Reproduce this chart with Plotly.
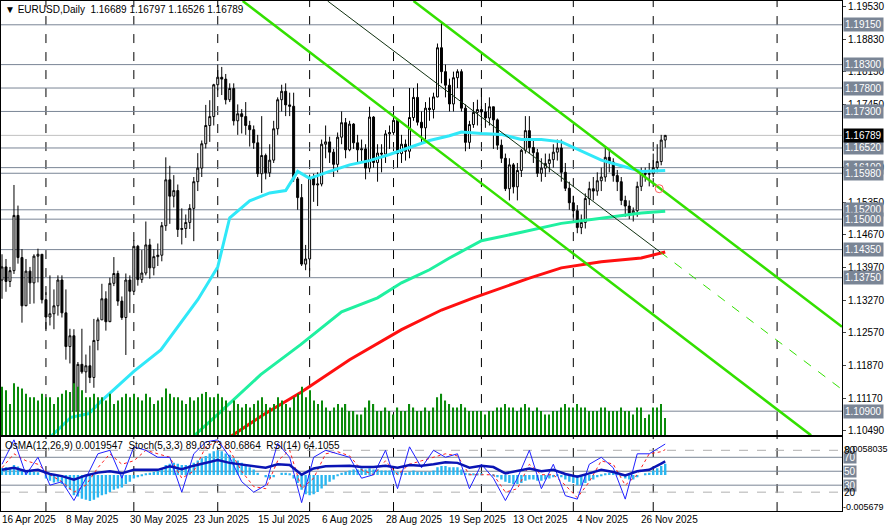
import pandas as pd
import plotly.graph_objects as go

# ---- data (EURUSD daily, bar index 0 = 16 Apr 2025) ----
closes = [
    1.1398, 1.1367, 1.1390, 1.1508, 1.1418, 1.1315, 1.1389, 1.1364, 1.1421, 1.1425, 1.1328,
    1.1291, 1.1298, 1.1315, 1.1370, 1.1300, 1.1228, 1.1251, 1.1089, 1.1190, 1.1174, 1.1187,
    1.1162, 1.1241, 1.1285, 1.1330, 1.1281, 1.1363, 1.1384, 1.1325, 1.1290, 1.1370, 1.1346,
    1.1442, 1.1371, 1.1385, 1.1445, 1.1396, 1.1420, 1.1423, 1.1486, 1.1584, 1.1549, 1.1561,
    1.1478, 1.1480, 1.1493, 1.1523, 1.1580, 1.1609, 1.1661, 1.1700, 1.1719, 1.1787,
    1.1803, 1.1799, 1.1755, 1.1779, 1.1710, 1.1725, 1.1719, 1.1700, 1.1691, 1.1663, 1.1597,
    1.1636, 1.1599, 1.1626, 1.1693, 1.1755, 1.1773, 1.1744, 1.1741, 1.1586, 1.1546, 1.1404, 1.1415,
    1.1587, 1.1573, 1.1575, 1.1660, 1.1665, 1.1643, 1.1617, 1.1675, 1.1706, 1.1648, 1.1703,
    1.1663, 1.1648, 1.1650, 1.1609, 1.1718, 1.1621, 1.1641, 1.1639, 1.1682, 1.1685,
    1.1711, 1.1640, 1.1660, 1.1645, 1.1717, 1.1760, 1.1707, 1.1695, 1.1737, 1.1734, 1.1761,
    1.1866, 1.1815, 1.1786, 1.1746, 1.1802, 1.1815, 1.1737, 1.1664, 1.1702, 1.1728, 1.1734,
    1.1729, 1.1716, 1.1740, 1.1712, 1.1658, 1.1630, 1.1565, 1.1616, 1.1569, 1.1604, 1.1647,
    1.1689, 1.1653, 1.1642, 1.1598, 1.1609, 1.1619, 1.1627, 1.1643, 1.1652, 1.1600, 1.1566, 1.1535,
    1.1518, 1.1482, 1.1493, 1.1544, 1.1565, 1.1560, 1.1582, 1.1590, 1.1632, 1.1622,
    1.1593, 1.1580, 1.1540, 1.1528, 1.1513, 1.1518, 1.1570, 1.1598, 1.1596, 1.1597,
    1.1610, 1.1623, 1.16689, 1.16789,
]
highs = [
    1.1425, 1.1415, 1.1398, 1.1573, 1.1529, 1.1436, 1.1415, 1.1398, 1.1425, 1.1437, 1.1425,
    1.1344, 1.1380, 1.1350, 1.1380, 1.1380, 1.1350, 1.1266, 1.1265, 1.1195, 1.1266, 1.1211,
    1.1230, 1.1287, 1.1290, 1.1362, 1.1346, 1.1375, 1.1419, 1.1390, 1.1335, 1.1384, 1.1380,
    1.1455, 1.1445, 1.1434, 1.1495, 1.1458, 1.1436, 1.1448, 1.1494, 1.1632, 1.1614, 1.1594,
    1.1574, 1.1523, 1.1510, 1.1532, 1.1590, 1.1641, 1.1668, 1.1744, 1.1754, 1.1789,
    1.1830, 1.1825, 1.1810, 1.1790, 1.1790, 1.1745, 1.1735, 1.1750, 1.1710, 1.1700, 1.1680,
    1.1720, 1.1640, 1.1660, 1.1710, 1.1760, 1.1787, 1.1790, 1.1770, 1.1770, 1.1590, 1.1575, 1.1445,
    1.1595, 1.1597, 1.1600, 1.1670, 1.1700, 1.1676, 1.1650, 1.1685, 1.1730, 1.1716, 1.1710,
    1.1705, 1.1680, 1.1670, 1.1660, 1.1740, 1.1720, 1.1660, 1.1660, 1.1690, 1.1700,
    1.1720, 1.1715, 1.1680, 1.1670, 1.1780, 1.1780, 1.1790, 1.1730, 1.1750, 1.1760, 1.1770,
    1.1875, 1.1918, 1.1830, 1.1800, 1.1815, 1.1820, 1.1820, 1.1745, 1.1710, 1.1750, 1.1755,
    1.1780, 1.1748, 1.1760, 1.1740, 1.1715, 1.1670, 1.1640, 1.1630, 1.1620, 1.1620, 1.1650,
    1.1720, 1.1720, 1.1670, 1.1650, 1.1630, 1.1640, 1.1640, 1.1660, 1.1670, 1.1670, 1.1620, 1.1580,
    1.1550, 1.1530, 1.1510, 1.1555, 1.1580, 1.1590, 1.1600, 1.1610, 1.1655, 1.1650,
    1.1630, 1.1605, 1.1590, 1.1550, 1.1540, 1.1525, 1.1580, 1.1610, 1.1610, 1.1620,
    1.1640, 1.1660, 1.1680, 1.16797,
]
lows = [
    1.1330, 1.1345, 1.1355, 1.1383, 1.1405, 1.1279, 1.1317, 1.1319, 1.1320, 1.1365, 1.1320,
    1.1265, 1.1273, 1.1265, 1.1294, 1.1290, 1.1200, 1.1192, 1.1065, 1.1080, 1.1170, 1.1129,
    1.1150, 1.1140, 1.1220, 1.1285, 1.1262, 1.1283, 1.1357, 1.1315, 1.1285, 1.1210, 1.1300,
    1.1345, 1.1358, 1.1364, 1.1380, 1.1373, 1.1380, 1.1400, 1.1410, 1.1475, 1.1490, 1.1525,
    1.1462, 1.1446, 1.1460, 1.1479, 1.1453, 1.1560, 1.1590, 1.1651, 1.1665, 1.1700,
    1.1775, 1.1765, 1.1745, 1.1750, 1.1700, 1.1680, 1.1683, 1.1680, 1.1655, 1.1650, 1.1590,
    1.1556, 1.1585, 1.1590, 1.1620, 1.1680, 1.1730, 1.1720, 1.1720, 1.1580, 1.1520, 1.1400, 1.1391,
    1.1390, 1.1537, 1.1528, 1.1570, 1.1630, 1.1620, 1.1590, 1.1600, 1.1660, 1.1630, 1.1645,
    1.1650, 1.1620, 1.1620, 1.1585, 1.1600, 1.1610, 1.1580, 1.1600, 1.1620, 1.1650,
    1.1680, 1.1610, 1.1620, 1.1625, 1.1630, 1.1710, 1.1700, 1.1660, 1.1670, 1.1710, 1.1715,
    1.1760, 1.1790, 1.1760, 1.1730, 1.1730, 1.1780, 1.1730, 1.1645, 1.1650, 1.1695, 1.1700,
    1.1700, 1.1695, 1.1700, 1.1650, 1.1648, 1.1620, 1.1560, 1.1540, 1.1555, 1.1540, 1.1590,
    1.1640, 1.1640, 1.1620, 1.1590, 1.1580, 1.1590, 1.1600, 1.1610, 1.1625, 1.1580, 1.1560, 1.1520,
    1.1505, 1.1470, 1.1468, 1.1480, 1.1530, 1.1540, 1.1550, 1.1560, 1.1580, 1.1600,
    1.1580, 1.1560, 1.1530, 1.1505, 1.1500, 1.1495, 1.1505, 1.1560, 1.1580, 1.1570,
    1.1590, 1.1600, 1.1615, 1.16526,
]
first_open = 1.1370

volumes = [
    28, 26, 18, 30, 28, 27, 24, 22, 22, 20, 24,
    22, 22, 18, 22, 24, 26, 25, 30, 28, 26, 22, 22, 24, 22, 22, 20, 24, 18, 20, 22, 24, 22,
    24, 22, 20, 24, 22, 18, 20, 22, 27, 24, 22, 22, 20, 18, 22, 20, 22, 24, 25, 22, 22,
    24, 22, 20, 14, 20, 18, 16, 18, 16, 18, 20, 22, 18, 16, 18, 22, 20, 18, 16, 22, 24, 28, 22,
    26, 20, 18, 20, 16, 14, 16, 18, 16, 18, 14, 14, 12, 12, 16, 20, 18, 14, 14, 16, 14,
    12, 16, 14, 14, 18, 16, 14, 14, 16, 14, 16, 22, 24, 20, 18, 16, 16, 18, 16, 14, 14, 14,
    14, 12, 14, 14, 16, 16, 18, 16, 16, 14, 16, 18, 16, 14, 16, 14, 12, 12, 14, 14, 16, 18, 16,
    16, 18, 16, 16, 14, 14, 14, 16, 16, 14, 14, 14, 16, 14, 14, 12, 16, 16, 10, 12,
    16, 16, 18, 10,
]

# OsMA histogram, in units of 0.0001
osma_e4 = [
    12, 14, 13, 18, 15, 8, 8, 6, 6, 5, 0,
    -6, -10, -13, -12, -16, -22, -26, -36, -38, -42, -44, -46, -44, -40, -36, -34, -30, -26, -24, -22, -16, -12,
    -6, -4, -2, 2, 4, 6, 8, 12, 18, 20, 22, 20, 18, 18, 18, 22, 26, 30, 34, 38, 42,
    44, 42, 38, 36, 30, 26, 22, 18, 14, 10, 4, 0, -4, -6, -4, 0, 4, 4, 2, -6, -14, -26, -34,
    -36, -34, -30, -24, -18, -12, -8, -2, 4, 6, 8, 10, 10, 12, 10, 12, 10, 10, 8, 8, 8,
    8, 6, 6, 4, 6, 8, 6, 6, 6, 6, 8, 14, 16, 16, 14, 14, 14, 10, 4, 2, 2, 2,
    2, 0, 0, -2, -4, -8, -12, -14, -16, -16, -14, -10, -8, -8, -10, -10, -8, -6, -4, -2, -4, -8, -12,
    -14, -18, -18, -14, -10, -8, -4, -2, 2, 4, 4, 2, -2, -6, -8, -8, -4, 0, 2, 4,
    8, 12, 16, 20,
]

# oscillators sampled every 3 bars
osc_idx = list(range(0, 166, 3)) + [166]
stoch_main = [60, 95, 45, 70, 30, 35, 8, 40, 75, 80, 40, 85, 80, 70, 70, 20, 75, 92, 95, 70,
              35, 20, 30, 90, 70, 5, 70, 80, 75, 70, 40, 45, 80, 25, 85, 55, 80, 70, 75, 25,
              60, 40, 8, 40, 80, 25, 60, 15, 10, 60, 70, 55, 10, 75, 75, 85, 89]
stoch_signal = [55, 75, 65, 60, 45, 35, 20, 30, 55, 75, 60, 65, 80, 75, 70, 40, 50, 85, 93, 80,
                50, 28, 25, 65, 80, 25, 40, 75, 78, 72, 52, 45, 65, 45, 60, 65, 70, 75, 72, 45,
                45, 45, 20, 25, 60, 45, 45, 30, 12, 35, 65, 60, 30, 45, 75, 78, 81]
rsi = [52, 55, 50, 52, 46, 43, 38, 44, 48, 50, 47, 52, 52, 52, 57, 53, 58, 62, 66, 62,
       60, 57, 55, 60, 59, 45, 54, 57, 58, 58, 56, 56, 58, 55, 59, 58, 60, 63, 62, 55,
       58, 56, 47, 50, 54, 50, 52, 46, 42, 47, 52, 49, 44, 50, 52, 61, 64]

# moving averages (bar index, price)
ma50_idx = [12.25, 17.25, 21.75, 24.75, 33, 39.75, 49, 54, 57, 62, 67, 71, 74, 76, 77, 82, 87, 92, 97, 102,
            107, 112, 115, 120, 125, 130, 135, 140, 145, 150, 155, 160, 166]
ma50 = [1.1036, 1.1077, 1.1085, 1.1111, 1.1175, 1.1221, 1.1328, 1.1398, 1.1503, 1.1539, 1.1556, 1.1561,
        1.1602, 1.1593, 1.1587, 1.1602, 1.1616, 1.1625, 1.1638, 1.1653, 1.1668, 1.1678, 1.1686, 1.1683,
        1.1681, 1.1670, 1.1670, 1.1665, 1.1645, 1.1626, 1.1614, 1.1602, 1.1604]
ma100_idx = [48, 54, 64.75, 74.75, 85, 94, 100, 107, 112, 120, 130, 140, 150, 160, 166]
ma100 = [1.1037, 1.1083, 1.1168, 1.1232, 1.1302, 1.1332, 1.1364, 1.1392, 1.1417, 1.1454, 1.1472, 1.1491,
         1.1502, 1.1513, 1.1517]
ma200_idx = [57.25, 65.5, 74.75, 87, 100, 110, 118, 125, 132, 140, 150, 160, 166]
ma200 = [1.1036, 1.1083, 1.1130, 1.1200, 1.1264, 1.1306, 1.1332, 1.1353, 1.1374, 1.1396, 1.1409, 1.1417, 1.1430]

# drawn trend channel (start/end bar, start/end price)
channel_lower = ([60.25, 202.5], [1.19658, 1.10384])
channel_upper = ([103.0, 210.25], [1.19658, 1.12703])
trend_solid = ([81.5, 164.75], [1.19658, 1.14298])
trend_dotted = ([164.75, 210.25], [1.14298, 1.11363])

levels = [1.1915, 1.1830, 1.1780, 1.1730, 1.1652, 1.1610, 1.1598, 1.1520, 1.1500, 1.1435, 1.1375, 1.1090]
price_ticks = [1.1953, 1.1883, 1.1815, 1.1745, 1.1610, 1.1535, 1.1467, 1.1397, 1.1327, 1.1257, 1.1187, 1.1117, 1.1049]
date_idx = [0, 16, 32, 48, 64, 80, 96, 112, 128, 144, 160]
date_labels = ['16 Apr 2025', '8 May 2025', '30 May 2025', '23 Jun 2025', '15 Jul 2025', '6 Aug 2025',
               '28 Aug 2025', '19 Sep 2025', '13 Oct 2025', '4 Nov 2025', '26 Nov 2025']
month_idx = [11, 33, 54, 77, 98, 120, 143, 163, 194]

n = len(closes)
idx = list(range(n))
opens = [first_open] + closes[:-1]
opens[-1] = 1.16689
osma = [v * 1e-4 for v in osma_e4]

MAIN_DOM = [1 - 436 / 528, 1]
SUB_DOM = [1 - 512 / 528, 1 - 438 / 528]
FONT = 'Liberation Sans'
FS = 10
GRID = '#7a8595'
GREEN = '#33e000'

fig = go.Figure()

# volumes (behind candles)
fig.add_trace(go.Bar(x=idx, y=volumes, yaxis='y3', marker_color='#0a8a0a', width=0.3,
                     marker_line_width=0, showlegend=False))

for x0 in month_idx:
    fig.add_shape(type='line', x0=x0, x1=x0, y0=SUB_DOM[0], y1=1, xref='x', yref='paper',
                  line=dict(color='black', width=1, dash='dash'), layer='below')
for lv in levels:
    fig.add_shape(type='line', x0=0, x1=1, y0=lv, y1=lv, xref='paper', yref='y',
                  line=dict(color=GRID, width=1), layer='below')
fig.add_shape(type='line', x0=0, x1=1, y0=closes[-1], y1=closes[-1], xref='paper', yref='y',
              line=dict(color='#c0c0c0', width=1), layer='below')

# moving averages
fig.add_trace(go.Scatter(x=ma200_idx, y=ma200, mode='lines', line=dict(color='#ff1010', width=3),
                         showlegend=False))
fig.add_trace(go.Scatter(x=ma100_idx, y=ma100, mode='lines', line=dict(color='#20f0a0', width=3),
                         showlegend=False))
fig.add_trace(go.Scatter(x=ma50_idx, y=ma50, mode='lines', line=dict(color='#30e8f8', width=3),
                         showlegend=False))

# channel lines
for xs, ys in (channel_lower, channel_upper):
    fig.add_trace(go.Scatter(x=xs, y=ys, mode='lines', line=dict(color=GREEN, width=2.5),
                             showlegend=False))
fig.add_trace(go.Scatter(x=trend_solid[0], y=trend_solid[1], mode='lines',
                         line=dict(color='#103010', width=1), showlegend=False))
fig.add_trace(go.Scatter(x=trend_dotted[0], y=trend_dotted[1], mode='lines',
                         line=dict(color=GREEN, width=1, dash='dash'), showlegend=False))

fig.add_trace(go.Candlestick(
    x=idx, open=opens, high=highs, low=lows, close=closes,
    increasing=dict(fillcolor='white', line=dict(color='black', width=1)),
    decreasing=dict(fillcolor='black', line=dict(color='black', width=1)),
    whiskerwidth=0, showlegend=False, hoverinfo='skip'))

fig.add_trace(go.Scatter(x=[164.5], y=[1.1565], mode='markers',
                         marker=dict(symbol='circle-open', color='#ff6060', size=8),
                         showlegend=False))

# sub-window levels
for val, dash in ((80, 'dash'), (20, 'dash'), (70, 'solid'), (30, 'solid'), (50, 'solid')):
    fig.add_shape(type='line', x0=0, x1=1, y0=val, y1=val, xref='paper', yref='y4',
                  line=dict(color='#b0b0b0' if dash == 'dash' else GRID, width=1, dash=dash),
                  layer='below')

fig.add_trace(go.Bar(x=idx, y=osma, xaxis='x2', yaxis='y2', marker_color='#29b6f0',
                     marker_line_width=0, width=0.6, showlegend=False))
fig.add_trace(go.Scatter(x=osc_idx, y=stoch_signal, xaxis='x2', yaxis='y4', mode='lines',
                         line=dict(color='#ff2020', width=1, dash='dot'), showlegend=False))
fig.add_trace(go.Scatter(x=osc_idx, y=stoch_main, xaxis='x2', yaxis='y4', mode='lines',
                         line=dict(color='#2020ff', width=1), showlegend=False))
fig.add_trace(go.Scatter(x=osc_idx, y=rsi, xaxis='x2', yaxis='y4', mode='lines',
                         line=dict(color='#0a14b4', width=2.5), showlegend=False))

ann = []
for lv in levels:
    ann.append(dict(x=1, y=lv, xref='paper', yref='y', xanchor='left', xshift=1, showarrow=False,
                    text=f'{lv:.5f}', bgcolor=GRID, borderpad=1,
                    font=dict(color='white', size=FS, family=FONT)))
ann.append(dict(x=1, y=closes[-1], xref='paper', yref='y', xanchor='left', xshift=1, showarrow=False,
                text=f'{closes[-1]:.5f}', bgcolor='black', borderpad=1,
                font=dict(color='white', size=FS, family=FONT)))
for val, txt, box in ((70, '70', True), (50, '50', True), (30, '30', True), (80, '80', False), (20, '20', False)):
    ann.append(dict(x=1, y=val, xref='paper', yref='y4', xanchor='left', xshift=1, showarrow=False,
                    text=txt, bgcolor=GRID if box else 'rgba(0,0,0,0)', borderpad=0,
                    font=dict(color='white' if box else 'black', size=FS, family=FONT)))
ann.append(dict(x=1, y=0.0058035, xref='paper', yref='y2', xanchor='left', yanchor='top', xshift=1,
                showarrow=False, text='0.0058035', font=dict(size=9, family=FONT, color='black')))
ann.append(dict(x=1, y=-0.005679, xref='paper', yref='y2', xanchor='left', xshift=-1, showarrow=False,
                text='-0.005679', font=dict(size=9, family=FONT, color='black')))
for i, lab in zip(date_idx, date_labels):
    ann.append(dict(x=i, y=0, xref='x', yref='paper', xanchor='left', yanchor='bottom', showarrow=False,
                    text=lab, xshift=-2, font=dict(size=FS, family=FONT, color='black')))
ann.append(dict(x=0, y=1, xref='paper', yref='paper', xanchor='left', yanchor='top', showarrow=False,
                xshift=2, yshift=-1,
                text='\u25bc EURUSD,Daily  1.16689 1.16797 1.16526 1.16789',
                font=dict(size=FS, family=FONT, color='black')))
ann.append(dict(x=0, y=SUB_DOM[1], xref='paper', yref='paper', xanchor='left', yanchor='top', showarrow=False,
                xshift=2, yshift=-1,
                text='OsMA(12,26,9) 0.0019547  Stoch(5,3,3) 89.0373 80.6864  RSI(14) 64.1055',
                font=dict(size=FS, family=FONT, color='black')))

xr = [-0.25, 210.25]
fig.update_layout(
    width=888, height=528,
    margin=dict(l=0, r=46, t=0, b=0),
    paper_bgcolor='white', plot_bgcolor='white',
    showlegend=False, barmode='overlay',
    font=dict(family=FONT, size=FS, color='black'),
    xaxis=dict(range=xr, domain=[0, 1], anchor='y', showgrid=False, showticklabels=False,
               rangeslider=dict(visible=False), zeroline=False,
               showline=True, linecolor='black', mirror=True),
    xaxis2=dict(range=xr, domain=[0, 1], anchor='y2', matches='x', showgrid=False,
                showticklabels=False, zeroline=False, showline=True, linecolor='black', mirror=True),
    yaxis=dict(domain=MAIN_DOM, range=[1.10384, 1.19658], side='right', tickvals=price_ticks,
               ticktext=[f'{v:.5f}' for v in price_ticks], ticks='outside', ticklen=3,
               showgrid=False, zeroline=False, showline=True, linecolor='black', mirror=True,
               tickfont=dict(size=FS)),
    yaxis3=dict(overlaying='y', range=[0, 250], visible=False),
    yaxis2=dict(domain=SUB_DOM, range=[-0.006386, 0.006687], side='right', showticklabels=False,
                showgrid=False, zeroline=False, showline=True, linecolor='black', mirror=True,
                anchor='x2'),
    yaxis4=dict(overlaying='y2', range=[-7.1, 98.6], visible=False),
    annotations=ann,
)

# the page's default body margin would shift the chart; drop it
fig.write_html('out.html', config={'displayModeBar': False},
               post_script="document.body.style.margin='0px';document.body.style.overflow='hidden';")
